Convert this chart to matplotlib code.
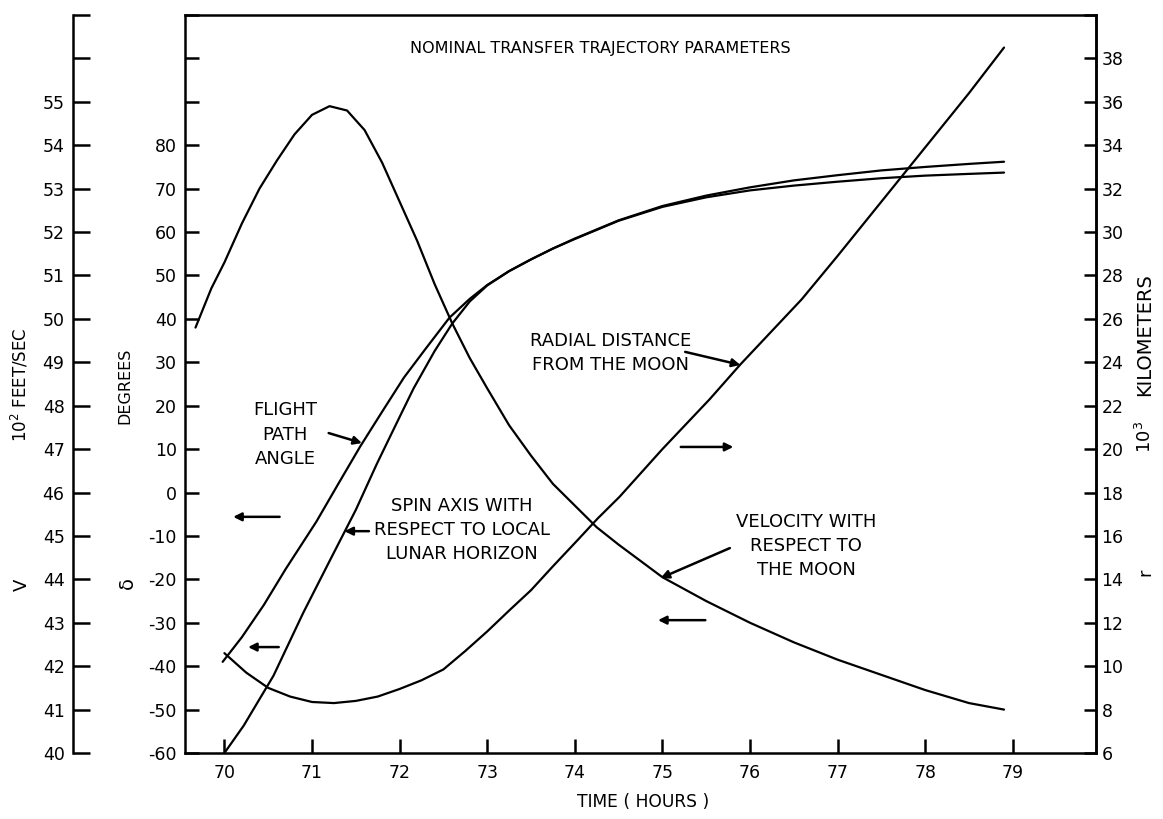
import matplotlib
matplotlib.use("Agg")
import matplotlib.pyplot as plt

plt.rcParams['font.family'] = ['DejaVu Sans']

# ---------------- data ----------------
# Velocity with respect to the Moon (10^2 ft/s)
t_vel = [69.67, 69.85, 70.0, 70.2, 70.4, 70.6, 70.8, 71.0, 71.2, 71.4, 71.6, 71.8,
         72.0, 72.2, 72.4, 72.6, 72.8, 73.0, 73.25, 73.5, 73.75, 74.0, 74.25, 74.5,
         75.0, 75.5, 76.0, 76.5, 77.0, 77.5, 78.0, 78.5, 78.9]
vel = [49.8, 50.7, 51.3, 52.2, 53.0, 53.65, 54.25, 54.7, 54.9, 54.8, 54.35, 53.6,
       52.7, 51.8, 50.8, 49.9, 49.1, 48.4, 47.55, 46.85, 46.2, 45.7, 45.2, 44.8,
       44.05, 43.5, 43.0, 42.55, 42.15, 41.8, 41.45, 41.15, 41.0]

# Flight path angle (degrees)
t_fpa = [69.98, 70.2, 70.45, 70.7, 71.05, 71.3, 71.55, 71.8, 72.05, 72.3, 72.57,
         72.8, 73.0, 73.25, 73.5, 73.75, 74.0, 74.5, 75.0, 75.5, 76.0, 76.5, 77.0,
         77.5, 78.0, 78.5, 78.9]
fpa = [-39.0, -33.3, -25.9, -17.6, -6.7, 2.0, 10.6, 18.6, 26.5, 33.2, 40.3,
       44.6, 47.8, 51.0, 53.7, 56.2, 58.4, 62.6, 65.8, 68.0, 69.6, 70.7, 71.6,
       72.4, 73.0, 73.4, 73.7]

# Spin axis with respect to local lunar horizon (degrees)
t_spin = [70.0, 70.22, 70.56, 70.9, 71.2, 71.5, 71.74, 72.0, 72.16, 72.4, 72.6,
          72.8, 73.0, 73.25, 73.5, 73.75, 74.0, 74.5, 75.0, 75.5, 76.0, 76.5, 77.0,
          77.5, 78.0, 78.5, 78.9]
spin = [-60.0, -53.7, -42.2, -27.7, -15.8, -4.0, 6.6, 17.4, 24.0, 32.6, 38.9,
        44.0, 47.7, 51.0, 53.7, 56.2, 58.5, 62.7, 66.0, 68.4, 70.3, 71.9, 73.1,
        74.2, 75.0, 75.7, 76.2]

# Radial distance from the Moon (10^3 km)
t_rad = [70.0, 70.25, 70.5, 70.75, 71.0, 71.25, 71.5, 71.75, 72.0, 72.25, 72.5,
         72.75, 73.0, 73.26, 73.5, 73.75, 74.03, 74.26, 74.51, 75.0, 75.54, 75.89,
         76.59, 77.0, 77.5, 78.0, 78.5, 78.9]
rad = [10.6, 9.7, 9.0, 8.6, 8.35, 8.3, 8.4, 8.6, 8.95, 9.35, 9.85,
       10.7, 11.6, 12.6, 13.5, 14.6, 15.8, 16.8, 17.8, 20.0, 22.3, 23.9,
       26.9, 28.9, 31.4, 33.9, 36.4, 38.5]

x_ticks = [70, 71, 72, 73, 74, 75, 76, 77, 78, 79]
deg_ticks = list(range(-60, 111, 10))
deg_labels = [str(v) if v <= 80 else "" for v in deg_ticks]
vel_ticks = list(range(40, 58))
vel_labels = [str(v) if v <= 55 else "" for v in vel_ticks]
rad_ticks = list(range(6, 41, 2))
rad_labels = [str(v) if v <= 38 else "" for v in rad_ticks]

# ---------------- figure ----------------
W, H = 1163, 819
fig = plt.figure(figsize=(W / 100, H / 100), dpi=100)
L, R, B, T = 185, 1096, 753, 15
ax = fig.add_axes([L / W, 1 - B / H, (R - L) / W, (B - T) / H])
ax_v = ax.twinx()
ax_r = ax.twinx()

lw_sp = 1.8
lw_c = 1.6
fs_tick = 12.5
fs_ann = 13
ls_ann = 1.45

# main (degrees) axis
ax.set_xlim(69.55, 79.95)
ax.set_ylim(-60, 110)
ax.set_xticks(x_ticks)
ax.set_xticklabels([str(v) for v in x_ticks], fontsize=fs_tick)
ax.set_yticks(deg_ticks)
ax.set_yticklabels(deg_labels, fontsize=fs_tick)
ax.tick_params(axis='x', direction='in', length=10, width=lw_sp, pad=8)
ax.tick_params(axis='y', direction='in', length=10, width=lw_sp, pad=6)
for s in ax.spines.values():
    s.set_linewidth(lw_sp)

# velocity axis (far left)
ax_v.set_ylim(40, 57)
ax_v.yaxis.tick_left()
ax_v.yaxis.set_label_position('left')
ax_v.spines['left'].set_position(('axes', -0.123))
ax_v.spines['left'].set_linewidth(lw_sp)
for k in ['right', 'top', 'bottom']:
    ax_v.spines[k].set_visible(False)
ax_v.set_yticks(vel_ticks)
ax_v.set_yticklabels(vel_labels, fontsize=fs_tick)
ax_v.tick_params(axis='y', direction='in', length=12, width=lw_sp, pad=6)

# radial axis (right)
ax_r.set_ylim(6, 40)
for k in ['left', 'top', 'bottom']:
    ax_r.spines[k].set_visible(False)
ax_r.spines['right'].set_linewidth(lw_sp)
ax_r.set_yticks(rad_ticks)
ax_r.set_yticklabels(rad_labels, fontsize=fs_tick)
ax_r.tick_params(axis='y', direction='in', length=9, width=lw_sp, pad=4)

# curves
ax_v.plot(t_vel, vel, color='black', lw=lw_c, solid_capstyle='round', solid_joinstyle='round')
ax.plot(t_fpa, fpa, color='black', lw=lw_c, solid_capstyle='round', solid_joinstyle='round')
ax.plot(t_spin, spin, color='black', lw=lw_c, solid_capstyle='round', solid_joinstyle='round')
ax_r.plot(t_rad, rad, color='black', lw=lw_c, solid_capstyle='round', solid_joinstyle='round')

# axis labels (figure coordinates)
fig.text(20 / W, 1 - 385 / H, "10$^{2}$ FEET/SEC", rotation=90, ha='center', va='center', fontsize=12)
fig.text(22 / W, 1 - 585 / H, "V", rotation=90, ha='center', va='center', fontsize=13)
fig.text(125 / W, 1 - 386 / H, "DEGREES", rotation=90, ha='center', va='center', fontsize=11.5)
fig.text(127 / W, 1 - 583 / H, "δ", rotation=90, ha='center', va='center', fontsize=14)
fig.text(1145 / W, 1 - 335 / H, "KILOMETERS", rotation=90, ha='center', va='center', fontsize=14)
fig.text(1145 / W, 1 - 437 / H, "10$^{3}$", rotation=90, ha='center', va='center', fontsize=13)
fig.text(1145 / W, 1 - 572 / H, "r", rotation=90, ha='center', va='center', fontsize=13)
fig.text(643 / W, 1 - 802 / H, "TIME ( HOURS )", ha='center', va='center', fontsize=12.3)
fig.text(600 / W, 1 - 48 / H, "NOMINAL TRANSFER TRAJECTORY PARAMETERS", ha='center', va='center', fontsize=11.5)

# annotations (main-axis data coordinates)
ax.text(70.69, 13.3, "FLIGHT\nPATH\nANGLE", ha='center', va='center', fontsize=fs_ann, linespacing=ls_ann)
ax.text(72.71, -8.6, "SPIN AXIS WITH\nRESPECT TO LOCAL\nLUNAR HORIZON", ha='center', va='center', fontsize=fs_ann, linespacing=ls_ann)
ax.text(74.41, 32.1, "RADIAL DISTANCE\nFROM THE MOON", ha='center', va='center', fontsize=fs_ann, linespacing=ls_ann)
ax.text(76.64, -12.3, "VELOCITY WITH\nRESPECT TO\nTHE MOON", ha='center', va='center', fontsize=fs_ann, linespacing=ls_ann)

ap = dict(arrowstyle='-|>', color='black', lw=1.8, mutation_scale=12, shrinkA=0, shrinkB=0)
ax.annotate("", xy=(71.57, 11.4), xytext=(71.19, 13.7), arrowprops=ap)
ax.annotate("", xy=(71.37, -8.9), xytext=(71.65, -8.9), arrowprops=ap)
ax.annotate("", xy=(75.89, 29.4), xytext=(75.26, 32.4), arrowprops=ap)
ax.annotate("", xy=(74.98, -19.7), xytext=(75.77, -12.8), arrowprops=ap)
# direction arrows
ax.annotate("", xy=(75.81, 10.5), xytext=(75.21, 10.5), arrowprops=ap)
ax.annotate("", xy=(74.95, -29.4), xytext=(75.49, -29.4), arrowprops=ap)
ax.annotate("", xy=(70.10, -5.6), xytext=(70.63, -5.6), arrowprops=ap)
ax.annotate("", xy=(70.27, -35.6), xytext=(70.62, -35.6), arrowprops=ap)

fig.savefig("out.png", dpi=100)
